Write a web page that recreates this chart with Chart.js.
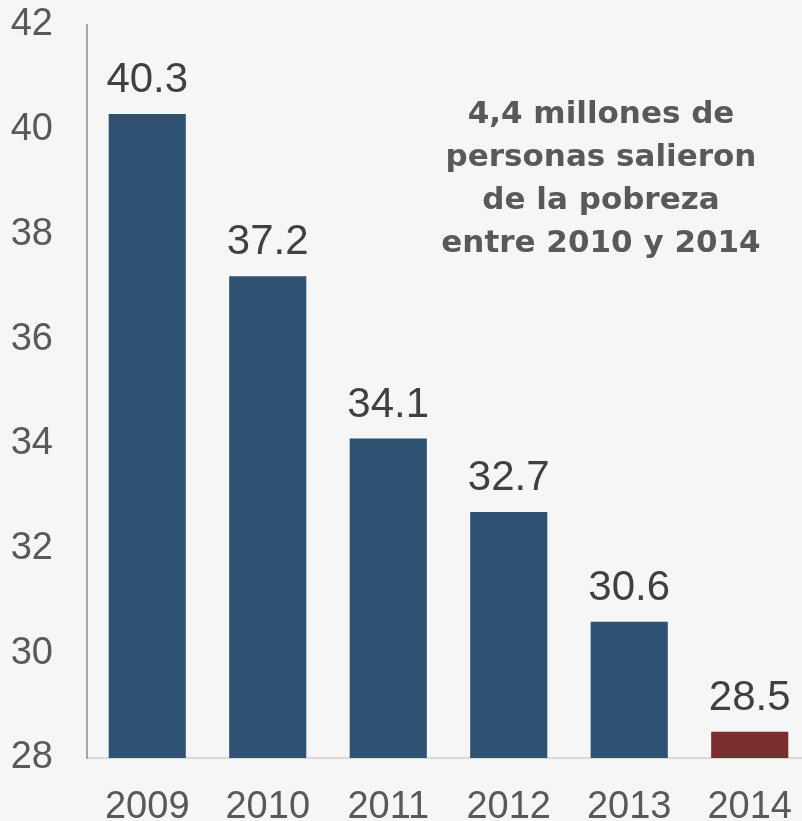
<!DOCTYPE html>
<html>
<head>
<meta charset="utf-8">
<script src="https://cdn.jsdelivr.net/npm/chart.js@4"></script>
<style>
  html, body { margin: 0; padding: 0; background: #f6f6f6; overflow: hidden; }
  canvas { display: block; }
</style>
</head>
<body>
<canvas id="povertyChart" width="819" height="821"></canvas>
<script>
const years = ['2009', '2010', '2011', '2012', '2013', '2014'];
const povertyRate = [40.3, 37.2, 34.1, 32.7, 30.6, 28.5];
const barColors = ['#2f5172', '#2f5172', '#2f5172', '#2f5172', '#2f5172', '#7a2f2e'];
const noteLines = ['4,4 millones de', 'personas salieron', 'de la pobreza', 'entre 2010 y 2014'];

// value labels above each bar
const valueLabels = {
  id: 'valueLabels',
  afterDatasetsDraw(chart) {
    const ctx = chart.ctx;
    const meta = chart.getDatasetMeta(0);
    ctx.save();
    ctx.font = '42px "Liberation Sans", Arial, sans-serif';
    ctx.fillStyle = '#404040';
    ctx.textAlign = 'center';
    ctx.textBaseline = 'alphabetic';
    meta.data.forEach((bar, i) => {
      ctx.fillText(povertyRate[i].toFixed(1), bar.x, bar.y - 22);
    });
    ctx.restore();
  }
};

// the bold note in the upper right
const noteText = {
  id: 'noteText',
  afterDraw(chart) {
    const ctx = chart.ctx;
    ctx.save();
    ctx.font = 'bold 31px "DejaVu Sans", sans-serif';
    ctx.fillStyle = '#595959';
    ctx.textAlign = 'center';
    ctx.textBaseline = 'alphabetic';
    noteLines.forEach((line, i) => {
      ctx.fillText(line, 601, 123 + i * 43);
    });
    ctx.restore();
  }
};

new Chart(document.getElementById('povertyChart').getContext('2d'), {
  type: 'bar',
  data: {
    labels: years,
    datasets: [{
      data: povertyRate,
      backgroundColor: barColors,
      borderWidth: 0,
      categoryPercentage: 0.8,
      barPercentage: 0.8
    }]
  },
  options: {
    responsive: false,
    animation: false,
    layout: { padding: { top: 25, left: 0, right: 0, bottom: 0 } },
    scales: {
      x: {
        grid: { color: 'transparent', drawTicks: false },
        border: { display: true, color: '#d9d9d9', width: 2 },
        ticks: {
          color: '#595959',
          font: { family: '"Liberation Sans", Arial, sans-serif', size: 38 },
          padding: 27,
          maxRotation: 0
        },
        afterFit(scale) { scale.height = 63; }
      },
      y: {
        min: 28,
        max: 42,
        grid: { color: 'transparent', drawTicks: false },
        border: { display: true, color: '#a6a6a6', width: 2 },
        ticks: {
          stepSize: 2,
          color: '#595959',
          font: { family: '"Liberation Sans", Arial, sans-serif', size: 38 },
          padding: 34
        },
        afterFit(scale) {
          scale.width = 87;
          scale.paddingTop = 0;
          scale.paddingBottom = 0;
        }
      }
    },
    plugins: {
      legend: { display: false },
      tooltip: { enabled: false }
    }
  },
  plugins: [valueLabels, noteText]
});
</script>
</body>
</html>
